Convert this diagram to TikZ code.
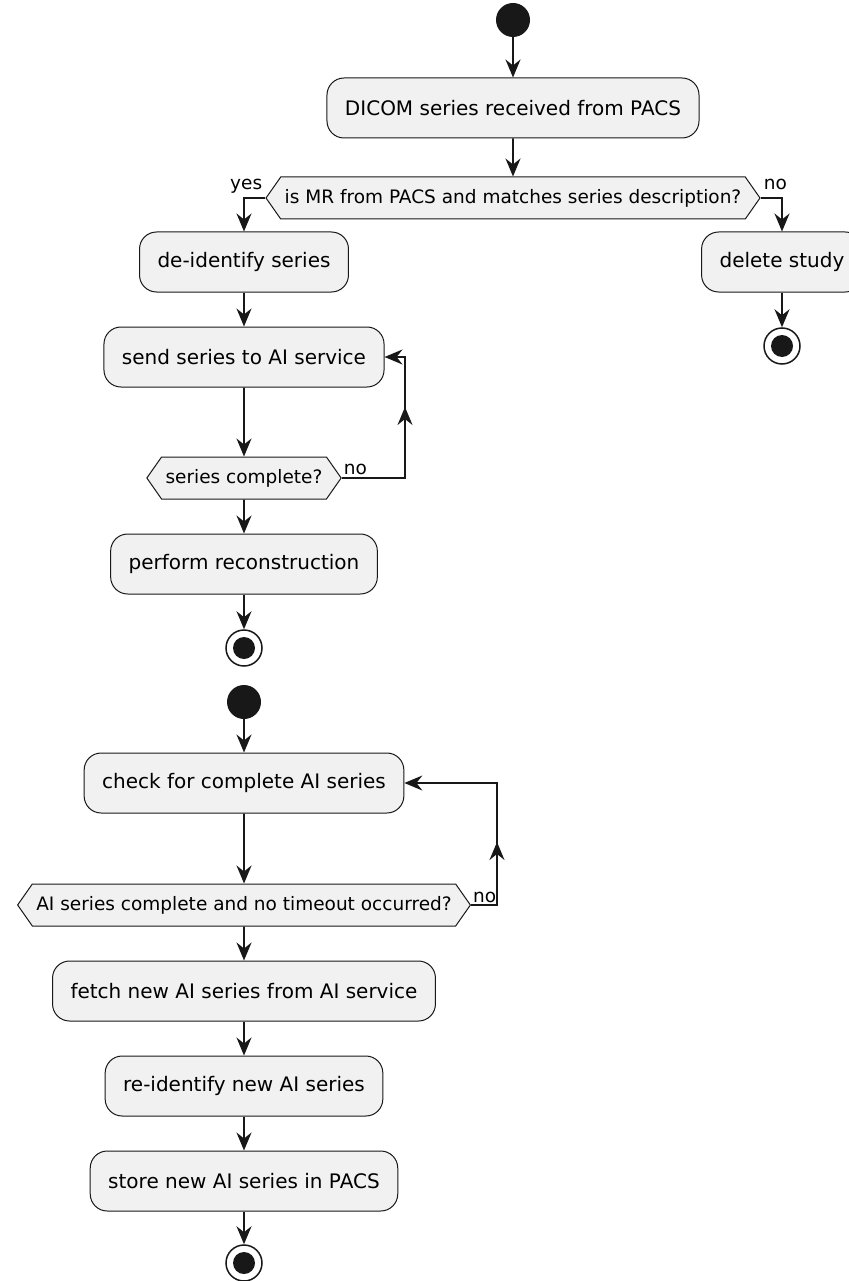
\documentclass[tikz,border=0pt]{standalone}
\usepackage{fontspec}
\setmainfont{DejaVu Sans}
\usetikzlibrary{arrows.meta,shapes.symbols}
\definecolor{boxfill}{HTML}{F1F1F1}
\definecolor{ink}{HTML}{181818}
\tikzset{
  act/.style={draw=ink,line width=1pt,fill=boxfill,rounded corners=17pt,minimum height=60pt,inner xsep=18pt,font=\fontsize{20}{24}\selectfont},
  dec/.style={draw=ink,line width=1pt,fill=boxfill,signal,signal to=west and east,signal pointer angle=110,minimum height=42pt,inner xsep=4pt,inner ysep=0pt,font=\fontsize{18.5}{22}\selectfont},
  startdot/.style={circle,fill=ink,minimum size=34pt,inner sep=0pt},
  enddot/.style={circle,draw=ink,line width=1.5pt,minimum size=36pt,inner sep=0pt,path picture={\fill[ink] (path picture bounding box.center) circle (11pt);}},
  flow/.style={draw=ink,line width=1.8pt,-{Stealth[length=18pt,width=15pt,inset=6pt]}},
  lbl/.style={font=\fontsize{18.5}{22}\selectfont,inner sep=0pt}
}
\begin{document}
\begin{tikzpicture}[x=1pt,y=-1pt]
\useasboundingbox (0,0) rectangle (848,1281);
\node[startdot] (s1) at (513,20) {};
\node[act] (recv) at (513,108) {DICOM series received from PACS};
\node[dec] (d1) at (513,198) {is MR from PACS and matches series description?};
\node[act] (deid) at (244,262) {de-identify series};
\node[act] (del) at (782,262) {delete study};
\node[enddot] (e1) at (782,346) {};
\node[act] (send) at (244,357) {send series to AI service};
\node[dec] (d2) at (244,478) {series complete?};
\node[act] (recon) at (244,564) {perform reconstruction};
\node[enddot] (e2) at (244,648) {};
\node[startdot] (s2) at (244,702) {};
\node[act] (check) at (244,783) {check for complete AI series};
\node[dec] (d3) at (244,905) {AI series complete and no timeout occurred?};
\node[act] (fetch) at (244,991) {fetch new AI series from AI service};
\node[act] (reid) at (244,1086) {re-identify new AI series};
\node[act] (store) at (244,1181) {store new AI series in PACS};
\node[enddot] (e3) at (244,1263) {};
\coordinate (lp) at (405,357);
\coordinate (lm1) at (405,407);
\coordinate (lq) at (497,783);
\coordinate (lm2) at (497,842);
\node[lbl,anchor=base east] (yes1) at ([xshift=-3pt,yshift=8pt]d1.west) {yes};
\node[lbl,anchor=base west] (no1) at ([xshift=3pt,yshift=8pt]d1.east) {no};
\node[lbl,anchor=base west] (no2) at ([xshift=2pt,yshift=4pt]d2.east) {no};
\node[lbl,anchor=base west] (no3) at ([xshift=2pt,yshift=3pt]d3.east) {no};
\draw[flow] (s1) -- (recv);
\draw[flow] (recv) -- (d1);
\draw[flow] (d1.west) -| (deid);
\draw[flow] (d1.east) -| (del);
\draw[flow] (del) -- (e1);
\draw[flow] (deid) -- (send);
\draw[flow] (send) -- (d2);
\draw[flow] (d2.east) -| (lp) -- (send.east);
\draw[flow] (d2.east -| lp) -- (lm1);
\draw[flow] (d2) -- (recon);
\draw[flow] (recon) -- (e2);
\draw[flow] (s2) -- (check);
\draw[flow] (check) -- (d3);
\draw[flow] (d3.east) -| (lq) -- (check.east);
\draw[flow] (d3.east -| lq) -- (lm2);
\draw[flow] (d3) -- (fetch);
\draw[flow] (fetch) -- (reid);
\draw[flow] (reid) -- (store);
\draw[flow] (store) -- (e3);
\end{tikzpicture}
\end{document}
